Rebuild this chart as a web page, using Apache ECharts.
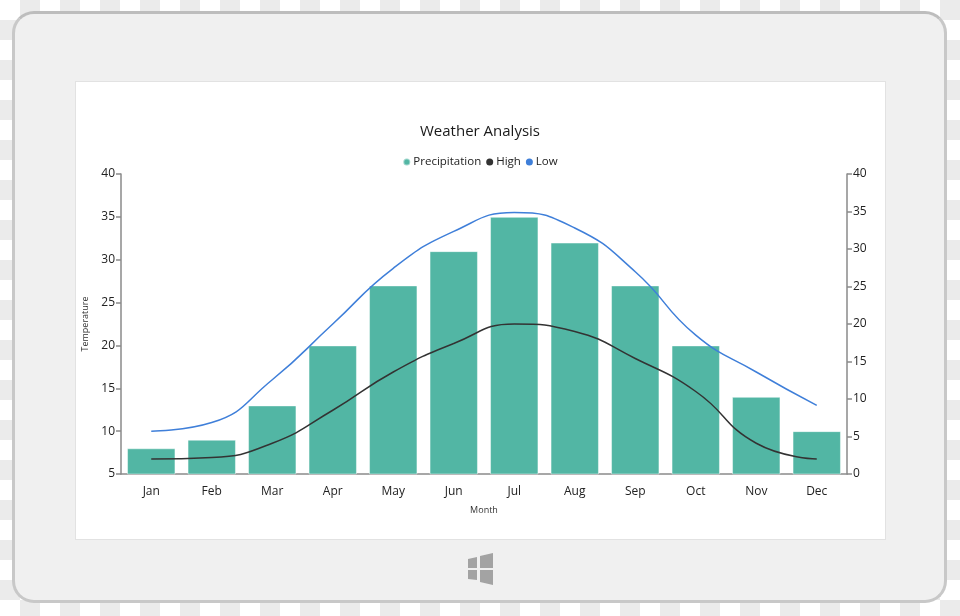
<!DOCTYPE html>
<html>
<head>
<meta charset="utf-8">
<script src="https://cdn.jsdelivr.net/npm/echarts@6/dist/echarts.min.js"></script>
<style>
  html, body { margin: 0; padding: 0; width: 960px; height: 616px; overflow: hidden; }
  body {
    background: repeating-conic-gradient(#ebebeb 0 25%, #ffffff 0 50%) 0 0 / 40px 40px;
    position: relative;
  }
  #frame {
    position: absolute; left: 12px; top: 11px; width: 929px; height: 586px;
    background: #f0f0f0; border: 3px solid #c8c8c8; border-top-color: #bdbdbd;
    border-radius: 22px;
  }
  #panel {
    position: absolute; left: 75px; top: 81px; width: 809px; height: 457px;
    background: #ffffff; border: 1px solid #e2e2e2;
  }
  #logo { position: absolute; left: 0; top: 0; }
  #chart { position: absolute; left: 0; top: 0; width: 960px; height: 616px; }
</style>
</head>
<body>
<div id="frame"></div>
<div id="panel"></div>
<svg id="logo" width="960" height="616">
  <polygon points="468,559 477,557 477,568 468,568" fill="#a3a3a3"/>
  <polygon points="480,556 493,553 493,568 480,568" fill="#a3a3a3"/>
  <polygon points="468,570 477,570 477,580 468,579" fill="#a3a3a3"/>
  <polygon points="480,570 493,570 493,585 480,582" fill="#a3a3a3"/>
</svg>
<div id="chart"></div>
<script>
const months = ['Jan','Feb','Mar','Apr','May','Jun','Jul','Aug','Sep','Oct','Nov','Dec'];
const precipitation = [8, 9, 13, 20, 27, 31, 35, 32, 27, 20, 14, 10];
const high = [2, 2.2, 4.1, 8.5, 13.6, 17.4, 20, 19, 15.4, 11, 4.1, 2];
const low = [10, 11, 16, 22.5, 29, 33.3, 35.5, 33.7, 28.6, 21.2, 16.9, 13];

const font = '"Open Sans", "Noto Sans", sans-serif';
const axisLineStyle = { color: '#8a8a8a', width: 1.5 };

const chart = echarts.init(document.getElementById('chart'), null, { renderer: 'canvas' });
chart.setOption({
  backgroundColor: 'transparent',
  animation: false,
  title: {
    text: 'Weather Analysis',
    left: 'center',
    top: 119,
    textStyle: { fontFamily: font, fontSize: 15, fontWeight: 'normal', color: '#1a1a1a' }
  },
  legend: {
    top: 151,
    left: 'center',
    itemGap: 5,
    itemWidth: 7,
    itemHeight: 7,
    icon: 'circle',
    textStyle: { fontFamily: font, fontSize: 11.5, color: '#222', padding: [0, 0, 0, -2] },
    data: ['Precipitation', 'High', 'Low']
  },
  grid: { left: 121, right: 113, top: 174, bottom: 142 },
  xAxis: {
    type: 'category',
    data: months,
    name: 'Month',
    nameLocation: 'middle',
    nameGap: 32,
    nameTextStyle: { fontFamily: font, fontSize: 9, color: '#333' },
    axisLine: { lineStyle: axisLineStyle },
    axisTick: { alignWithLabel: true, length: 5, lineStyle: axisLineStyle },
    axisLabel: { fontFamily: font, fontSize: 12, color: '#222', margin: 12 }
  },
  yAxis: [
    {
      type: 'value', min: 5, max: 40, interval: 5, position: 'left',
      name: 'Temperature', nameLocation: 'middle', nameGap: 25, nameRotate: 90,
      nameTextStyle: { fontFamily: font, fontSize: 9, color: '#333' },
      axisLine: { show: true, lineStyle: axisLineStyle },
      axisTick: { show: true, length: 5, lineStyle: axisLineStyle },
      axisLabel: { fontFamily: font, fontSize: 12, color: '#222', margin: 6 },
      splitLine: { show: false }
    },
    {
      type: 'value', min: 0, max: 40, interval: 5, position: 'right',
      axisLine: { show: true, lineStyle: axisLineStyle },
      axisTick: { show: true, length: 5, lineStyle: axisLineStyle },
      axisLabel: { fontFamily: font, fontSize: 12, color: '#222', margin: 6 },
      splitLine: { show: false }
    }
  ],
  series: [
    {
      name: 'Precipitation', type: 'bar', yAxisIndex: 0, data: precipitation,
      barWidth: '80%',
      itemStyle: { color: '#52b6a4', borderColor: 'rgba(255,255,255,0.45)', borderWidth: 1 }
    },
    {
      name: 'High', type: 'line', yAxisIndex: 1, data: high, smooth: 0.5,
      showSymbol: false, symbol: 'circle',
      lineStyle: { color: '#333333', width: 1.5 }, itemStyle: { color: '#333333' }
    },
    {
      name: 'Low', type: 'line', yAxisIndex: 0, data: low, smooth: 0.5,
      showSymbol: false, symbol: 'circle',
      lineStyle: { color: '#3f7fd9', width: 1.5 }, itemStyle: { color: '#3f7fd9' }
    }
  ]
});
</script>
</body>
</html>
